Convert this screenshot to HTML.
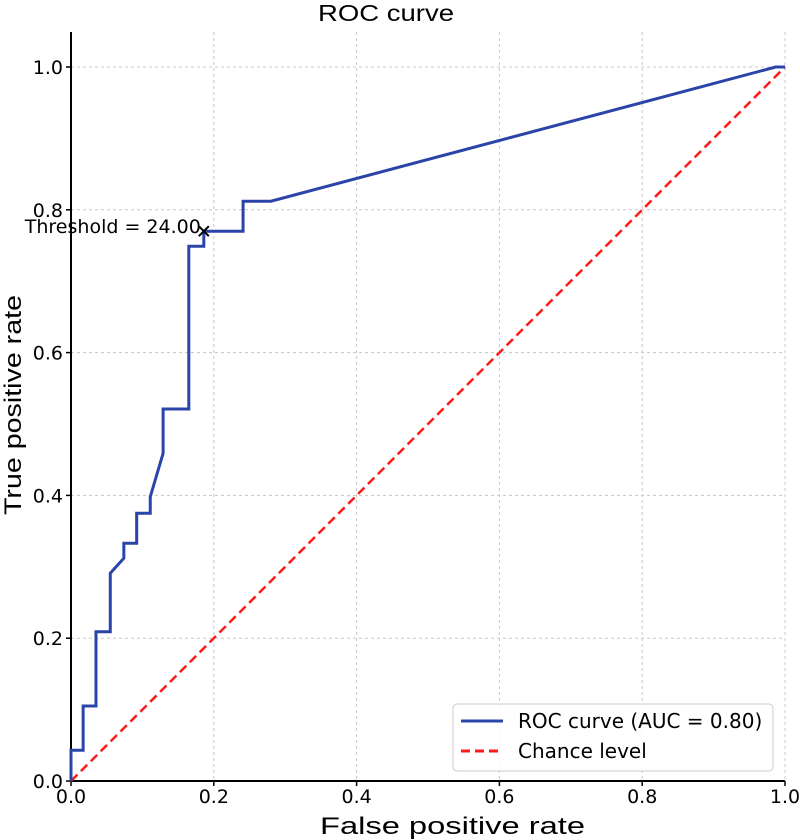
<!DOCTYPE html>
<html><head><meta charset="utf-8"><style>
body{margin:0;background:#fff}
svg{display:block;font-family:"DejaVu Sans","Liberation Sans",sans-serif}
</style></head><body>
<svg id="chart" width="800" height="840">
<g id="grid"></g>
<g id="axes"></g>
<g id="series"></g>
<text x="386" y="21" text-anchor="middle" font-size="23" font-family="Liberation Sans" textLength="136" lengthAdjust="spacingAndGlyphs">ROC curve</text>
<text x="320" y="834" font-size="24" font-family="Liberation Sans" textLength="265" lengthAdjust="spacingAndGlyphs">False positive rate</text>
<text transform="translate(21,515) rotate(-90)" font-size="24" font-family="Liberation Sans" textLength="220" lengthAdjust="spacingAndGlyphs">True positive rate</text>
<g>
<rect x="453" y="704" width="320" height="67" rx="4" fill="#fff" fill-opacity="0.85" stroke="#ccc"/>
<line x1="461" y1="721" x2="503" y2="721" stroke="#2a44a8" stroke-width="3"/>
<text x="518" y="728" font-size="20">ROC curve (AUC = 0.80)</text>
<line x1="461" y1="751" x2="503" y2="751" stroke="#ff1a1a" stroke-width="3" stroke-dasharray="9,5"/>
<text x="518" y="758" font-size="20">Chance level</text>
</g>
</svg>
<script>
const fpr=[0,0,0.017,0.017,0.035,0.035,0.055,0.055,0.074,0.074,0.092,0.092,0.111,0.111,0.129,0.129,0.165,0.165,0.186,0.186,0.241,0.241,0.280,0.987,1.0];
const tpr=[0,0.043,0.043,0.105,0.105,0.209,0.209,0.291,0.312,0.333,0.333,0.375,0.375,0.398,0.459,0.521,0.521,0.749,0.749,0.770,0.770,0.812,0.812,1.0,1.0];
const chanceX=[0,1];
const chanceY=[0,1];
const thresholdPoint=[0.186,0.770];
const thresholdLabel="Threshold = 24.00";
const ticks=[0,0.2,0.4,0.6,0.8,1.0];
const tickLabels=["0.0","0.2","0.4","0.6","0.8","1.0"];
const NS="http://www.w3.org/2000/svg";
const X0=71,X1=785,Y0=781,Y1=67;
const sx=v=>X0+v*(X1-X0), sy=v=>Y0-v*(Y0-Y1);
function mk(tag,attrs,parent){const e=document.createElementNS(NS,tag);for(const k in attrs)e.setAttribute(k,attrs[k]);parent.appendChild(e);return e;}
const grid=document.getElementById('grid'),axes=document.getElementById('axes'),series=document.getElementById('series');
ticks.forEach((t,i)=>{
 let g=mk('line',{x1:sx(t),x2:sx(t),y1:32,y2:Y0,stroke:'#c8c8c8','stroke-dasharray':'3,3','stroke-width':1},grid);
 
 
 g=mk('line',{x1:X0,x2:X1,y1:sy(t),y2:sy(t),stroke:'#c8c8c8','stroke-dasharray':'3,3','stroke-width':1},grid);
 
 
 let tk=mk('line',{x1:sx(t),x2:sx(t),y1:Y0,y2:Y0+5,stroke:'#000','stroke-width':1.5},axes);
 
 
 tk=mk('line',{x1:X0-5,x2:X0,y1:sy(t),y2:sy(t),stroke:'#000','stroke-width':1.5},axes);
 
 
 let tl=mk('text',{x:sx(t),y:Y0+22,'text-anchor':'middle','font-size':19},axes);tl.textContent=tickLabels[i];
 
 
 tl=mk('text',{x:X0-8,y:sy(t)+7,'text-anchor':'end','font-size':19},axes);tl.textContent=tickLabels[i];
 
 
});
let sp=mk('line',{x1:X0,x2:X0,y1:32,y2:Y0,stroke:'#000','stroke-width':2},axes);


sp=mk('line',{x1:X0,x2:X1,y1:Y0,y2:Y0,stroke:'#000','stroke-width':2},axes);


let ch=mk('polyline',{points:chanceX.map((v,i)=>sx(v)+','+sy(chanceY[i])).join(' '),fill:'none',stroke:'#ff1a1a','stroke-width':2.5,'stroke-dasharray':'9,5'},series);


let roc=mk('polyline',{points:fpr.map((v,i)=>sx(v)+','+sy(tpr[i])).join(' '),fill:'none',stroke:'#2a44a8','stroke-width':3,'stroke-linejoin':'miter'},series);


const px=sx(thresholdPoint[0]),py=sy(thresholdPoint[1]);
let m=mk('path',{d:`M${px-5},${py-5}L${px+5},${py+5}M${px-5},${py+5}L${px+5},${py-5}`,stroke:'#000','stroke-width':2},series);


let lt=mk('text',{x:px-3,y:py+2,'text-anchor':'end','font-size':19},series);lt.textContent=thresholdLabel;


</script>
</body></html>
